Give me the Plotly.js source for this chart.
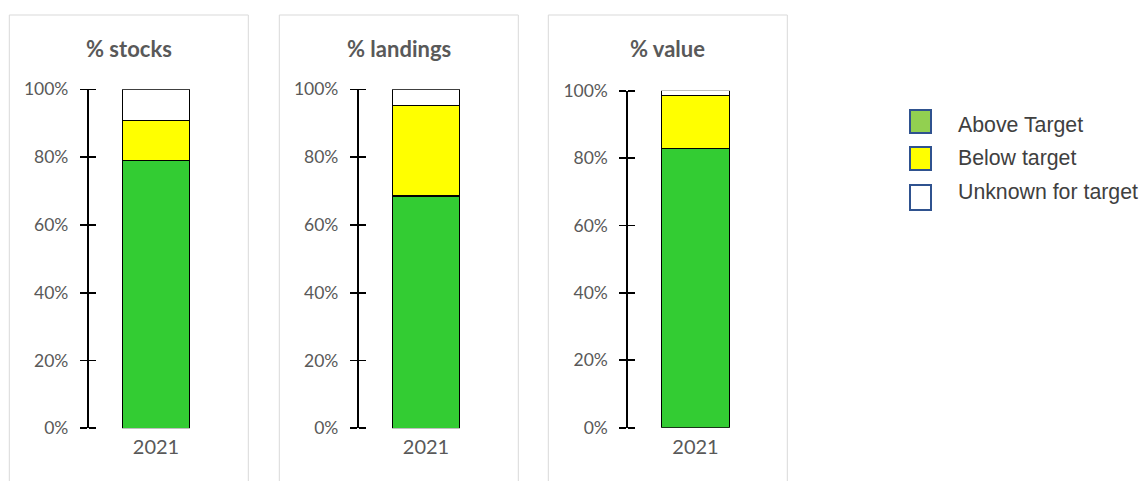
<!DOCTYPE html>
<html>
<head>
<meta charset="utf-8">
<script src="https://cdn.plot.ly/plotly-3.0.1.min.js"></script>
<style>html,body{margin:0;padding:0;background:#fff;}#chart{width:1142px;height:481px;}</style>
</head>
<body>
<div id="chart"></div>
<script>
const categories = ['2021'];
const seriesNames = ['Above Target', 'Below target', 'Unknown for target'];
const panelTitles = ['% stocks', '% landings', '% value'];
const stocks = [0.791, 0.116, 0.093];
const landings = [0.685, 0.267, 0.048];
const value = [0.828, 0.158, 0.014];
const tickVals = [0, 0.2, 0.4, 0.6, 0.8, 1];

const panelData = [stocks, landings, value];
const barColors = ['#33CC33', '#FFFF00', '#FFFFFF'];
const legendColors = ['#92D050', '#FFFF00', '#FFFFFF'];

const W = 1142, H = 481;
const px = v => v / W;
const py = v => 1 - v / H;

// layout geometry (pixels)
const xDomainsPx = [[88.5, 223.5], [358.5, 493.5], [628, 763]];
const yDomainsPx = [[428.3, 89.3], [428.3, 89.3], [427.7, 90.7]];
const panelBoxPx = [[9.3, 248.3], [279.3, 518.3], [548.3, 787.3]];

const traces = [];
panelData.forEach((vals, p) => {
  const xa = p === 0 ? 'x' : 'x' + (p + 1);
  const ya = p === 0 ? 'y' : 'y' + (p + 1);
  seriesNames.forEach((name, i) => {
    traces.push({
      type: 'bar',
      name: name,
      x: categories,
      y: [vals[i]],
      xaxis: xa,
      yaxis: ya,
      marker: { color: barColors[i], line: { color: '#000000', width: 1.3 } },
      showlegend: false,
      hoverinfo: 'name+y'
    });
  });
});

const layout = {
  width: W,
  height: H,
  margin: { l: 0, r: 0, t: 0, b: 0 },
  paper_bgcolor: '#ffffff',
  plot_bgcolor: 'rgba(0,0,0,0)',
  barmode: 'stack',
  bargap: 0.5,
  showlegend: false,
  font: { family: 'Lato, "Open Sans", sans-serif', color: '#595959' },
  shapes: [],
  annotations: []
};

for (let p = 0; p < 3; p++) {
  const sfx = p === 0 ? '' : String(p + 1);
  const xa = 'x' + sfx, ya = 'y' + sfx;
  const dom = [py(yDomainsPx[p][0]), py(yDomainsPx[p][1])];
  layout['xaxis' + sfx] = {
    domain: [px(xDomainsPx[p][0]), px(xDomainsPx[p][1])],
    anchor: ya,
    range: [-0.5, 0.5],
    type: 'category',
    showline: false,
    showgrid: false,
    zeroline: false,
    ticks: '',
    ticklabelstandoff: 5,
    tickfont: { family: 'Lato, sans-serif', size: 20, color: '#595959' },
    fixedrange: true
  };
  layout['yaxis' + sfx] = {
    domain: dom,
    anchor: xa,
    range: [0, 1],
    tickvals: tickVals,
    tickformat: '.0%',
    showline: true,
    linecolor: '#000000',
    linewidth: 1.6,
    showgrid: false,
    zeroline: false,
    ticks: 'outside',
    ticklen: 7,
    tickwidth: 1.6,
    tickcolor: '#000000',
    ticklabelstandoff: 8,
    tickfont: { family: 'Lato, sans-serif', size: 17.5, color: '#595959' },
    // inner half of the crossing tick marks
    minor: {
      tickvals: tickVals,
      ticks: 'inside',
      ticklen: 7,
      tickwidth: 1.6,
      tickcolor: '#000000',
      showgrid: false
    },
    fixedrange: true
  };
  // panel frame
  layout.shapes.push({
    type: 'rect', xref: 'paper', yref: 'paper',
    x0: px(panelBoxPx[p][0]), x1: px(panelBoxPx[p][1]),
    y0: py(H + 5), y1: py(15),
    line: { color: '#D9D9D9', width: 1 },
    fillcolor: 'rgba(0,0,0,0)', layer: 'below'
  });
  // panel title
  layout.annotations.push({
    xref: 'paper', yref: 'paper',
    x: px((panelBoxPx[p][0] + panelBoxPx[p][1]) / 2),
    y: py(48),
    xanchor: 'center', yanchor: 'middle',
    showarrow: false,
    text: '<b>' + panelTitles[p] + '</b>',
    font: { family: 'Lato, sans-serif', size: 22, color: '#595959' }
  });
}

// legend (drawn as frame-level shapes + text)
const legendRowsPx = [[110, 133, 125], [147, 170, 158], [185, 210, 192]];
seriesNames.forEach((name, i) => {
  const r = legendRowsPx[i];
  layout.shapes.push({
    type: 'rect', xref: 'paper', yref: 'paper',
    x0: px(910), x1: px(931), y0: py(r[1]), y1: py(r[0]),
    line: { color: '#2F528F', width: 2 },
    fillcolor: legendColors[i]
  });
  layout.annotations.push({
    xref: 'paper', yref: 'paper',
    x: px(956), y: py(r[2]),
    xanchor: 'left', yanchor: 'middle',
    showarrow: false,
    text: name,
    font: { family: '"Liberation Sans", Arial, sans-serif', size: 21.3, color: '#404040' }
  });
});

Plotly.newPlot('chart', traces, layout, { displayModeBar: false, staticPlot: true });
</script>
</body>
</html>
